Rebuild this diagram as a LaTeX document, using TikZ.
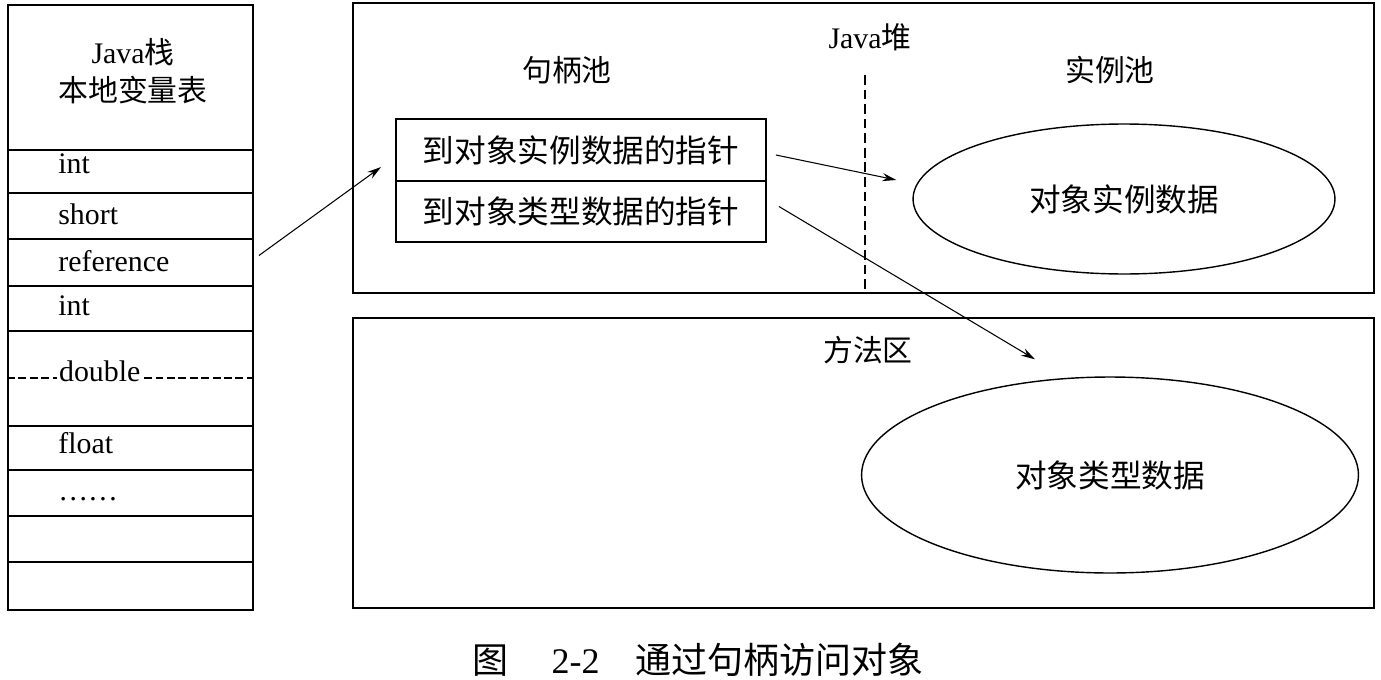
\documentclass[tikz,border=0pt]{standalone}
\usepackage{fontspec}
\setmainfont{Liberation Serif}
\newfontfamily\cjk{Noto Sans CJK SC}
\usetikzlibrary{arrows.meta, positioning, calc, shapes.geometric}

\begin{document}
\begin{tikzpicture}[x=0.02cm, y=-0.02cm,
        font=\fontsize{17}{21.5}\selectfont,
        cellbox/.style={rectangle, draw, line width=1.1pt, minimum width=4.9cm, inner sep=0pt},
        areabox/.style={rectangle, draw, line width=1.1pt, minimum width=20.42cm, minimum height=5.8cm, inner sep=0pt},
        slotlabel/.style={anchor=base west, inner sep=0pt},
        zhlabel/.style={font=\cjk\fontsize{17}{20}\selectfont, inner sep=0pt},
        handlebox/.style={rectangle, draw, line width=1.1pt, minimum width=7.4cm, minimum height=1.23cm,
                          inner sep=0pt, font=\cjk\fontsize{18}{20}\selectfont},
        poolshape/.style={ellipse, draw, line width=0.8pt, inner sep=0pt, font=\cjk\fontsize{18}{20}\selectfont},
        refarrow/.style={-{Stealth[length=2.8mm, width=1.6mm]}, line width=0.6pt},
        divider/.style={dashed, dash pattern=on 5.5pt off 2.8pt, line width=0.8pt}
    ]
        \useasboundingbox (0,0) rectangle (1381,679);

        % Java stack: local variable table
        \foreach \name/\ya/\yb in {head/5/150, s1/150/193, s2/193/239, ref/239/286, s4/286/331,
                                   s5/331/426, s6/426/470, s7/470/516, s8/516/562, s9/562/610}
            \node[cellbox, minimum height={(\yb-\ya)*0.02cm}] (\name) at (130.5, {(\ya+\yb)/2}) {};
        \node[align=center] (title) at (133,71) {Java{\cjk 栈}\\{\cjk 本地变量表}};
        \draw[divider, dash pattern=on 4.5pt off 2pt] (s5.west |- 0,378) -- (s5.east |- 0,378);
        \foreach \y/\txt in {173/int, 224/short, 271/reference, 315/int, 453/float, 500/\ldots\ldots}
            \node[slotlabel] at (58,\y) {\txt};
        \node[slotlabel, fill=white, inner xsep=1pt] (dbl) at (57,381) {double};

        % Java heap and method area
        \node[areabox] (heap) at (863.5,148) {};
        \node[areabox] (method) at (863.5,463) {};
        \node[inner sep=0pt] (heaplabel) at (870,37) {Java{\cjk 堆}};
        \node[zhlabel] (handlepool) at (567,70) {句柄池};
        \node[zhlabel] (instpool) at (1110,70) {实例池};
        \node[zhlabel] (methodlabel) at (868,350) {方法区};
        \draw[divider] (865,75) -- (865,293);

        \node[handlebox] (hInst) at (581,150) {到对象实例数据的指针};
        \node[handlebox] (hType) at (581,211.5) {到对象类型数据的指针};
        \node[poolshape, minimum width=8.44cm, minimum height=3cm] (inst) at (1124,199) {对象实例数据};
        \node[poolshape, minimum width=9.94cm, minimum height=3.92cm] (type) at (1110,475) {对象类型数据};

        \draw[refarrow] ($(ref.east)+(5,-7)$) -- ($(hInst.west)+(-14,17)$);
        \draw[refarrow] ($(hInst.east)+(9,5)$) -- ($(inst.west)+(-16,-19)$);
        \draw[refarrow] ($(hType.east)+(12,-5)$) -- ($(type.north)+(-75,-17)$);

        \node[font=\fontsize{20.5}{24}\selectfont] (caption) at (698,660)
            {{\cjk 图}\hspace{1.2em}2-2\hspace{1em}{\cjk 通过句柄访问对象}};
    \end{tikzpicture}
\end{document}
